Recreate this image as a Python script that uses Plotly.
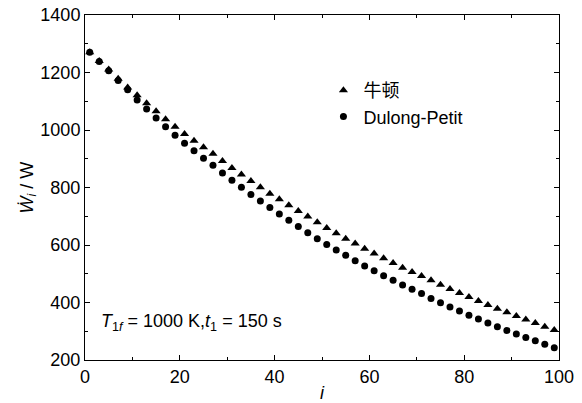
import plotly.graph_objects as go

i_vals = list(range(1, 101, 2))

newton = [1270, 1240, 1210, 1178, 1148, 1121, 1093, 1065, 1037, 1011,
          986, 963, 940, 917, 892, 868, 845, 823, 801, 778,
          759, 738, 718, 699, 679, 659, 641, 622, 605, 587,
          570, 554, 537, 521, 506, 492, 477, 462, 447, 433,
          419, 405, 391, 378, 366, 353, 341, 329, 316, 304]

dulong = [1270, 1238, 1206, 1172, 1140, 1104, 1073, 1042, 1011, 982,
          954, 928, 902, 877, 850, 825, 801, 776, 753, 730,
          708, 686, 664, 643, 622, 602, 583, 564, 545, 527,
          510, 493, 477, 461, 446, 431, 414, 399, 384, 370,
          356, 343, 329, 316, 303, 290, 278, 267, 255, 243]

x_ticks = [0, 20, 40, 60, 80, 100]
y_ticks = [200, 400, 600, 800, 1000, 1200, 1400]

fnt = "Liberation Sans, Arial, Noto Sans CJK SC, sans-serif"
FS = 18

fig = go.Figure()
fig.add_trace(go.Scatter(x=i_vals, y=newton, mode="markers", name="牛顿",
                         marker=dict(symbol="triangle-up", size=8, color="black")))
fig.add_trace(go.Scatter(x=i_vals, y=dulong, mode="markers", name="Dulong-Petit",
                         marker=dict(symbol="circle", size=7, color="black")))

axis_common = dict(showline=True, linecolor="black", linewidth=1, mirror="ticks",
                   ticks="inside", ticklen=5, tickwidth=1, tickcolor="black",
                   showgrid=False, zeroline=False, automargin=False,
                   ticklabeloverflow="allow",
                   tickfont=dict(family=fnt, size=FS, color="black"))

fig.update_xaxes(range=[0, 100], tickvals=x_ticks,
                 minor=dict(dtick=10, ticks="inside", ticklen=3, tickcolor="black", showgrid=False),
                 **axis_common)
fig.update_yaxes(range=[200, 1400], tickvals=y_ticks,
                 minor=dict(dtick=100, ticks="inside", ticklen=3, tickcolor="black", showgrid=False),
                 **axis_common)

# axis titles
fig.add_annotation(x=0.5, y=-0.095, xref="paper", yref="paper", xanchor="center", yanchor="middle",
                   showarrow=False, text="<i>i</i>",
                   font=dict(family=fnt, size=FS, color="black"))
fig.add_annotation(x=-0.12, y=0.5, xref="paper", yref="paper", xanchor="center", yanchor="middle",
                   showarrow=False, textangle=-90,
                   text="<i>W\u0307</i><sub><i>i</i></sub> / W",
                   font=dict(family=fnt, size=FS, color="black"))

fig.add_annotation(x=0.03, y=0.11, xref="paper", yref="paper", xanchor="left", yanchor="middle",
                   showarrow=False,
                   text="<i>T</i><sub>1<i>f</i></sub> = 1000 K,<i>t</i><sub>1</sub> = 150 s",
                   font=dict(family=fnt, size=FS, color="black"))

fig.update_layout(
    width=582, height=403,
    margin=dict(l=85, r=23, t=15, b=43),
    paper_bgcolor="white", plot_bgcolor="white",
    showlegend=True,
    legend=dict(x=0.503, y=0.835, xanchor="left", yanchor="top",
                bgcolor="rgba(0,0,0,0)", font=dict(family=fnt, size=FS, color="black"),
                itemsizing="trace", tracegroupgap=0, itemwidth=30),
    font=dict(family=fnt, size=FS, color="black"),
)

fig.write_html("out.html", config={"displayModeBar": False},
               post_script="document.body.style.margin='0';")
